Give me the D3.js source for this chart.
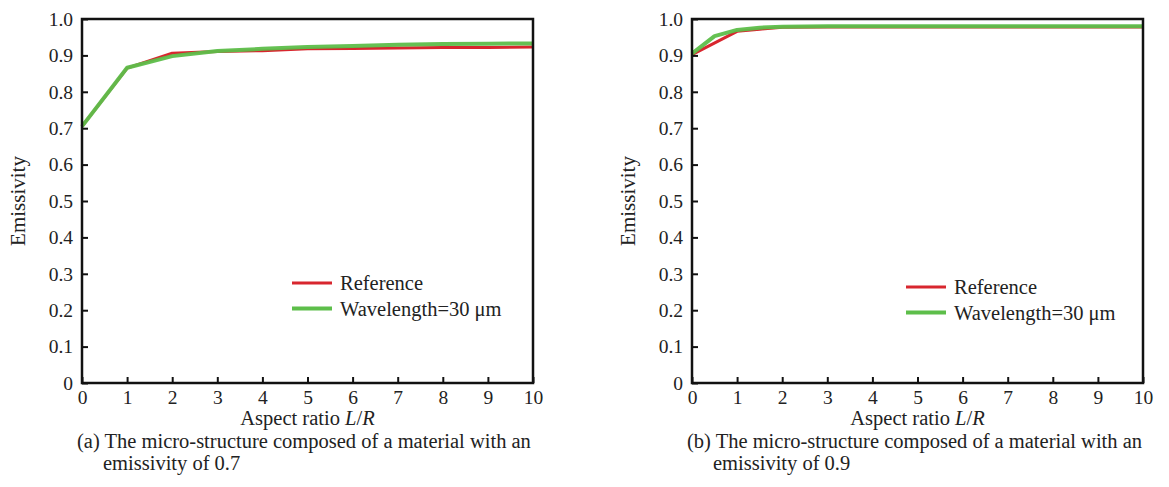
<!DOCTYPE html>
<html>
<head>
<meta charset="utf-8">
<script src="https://cdn.jsdelivr.net/npm/d3@7"></script>
<style>
  html, body { margin: 0; padding: 0; background: #fff; }
  svg { display: block; }
  svg text { font-family: "Liberation Serif", "Times New Roman", serif; fill: #222; }
</style>
</head>
<body>
<svg id="chart" width="1169" height="487"></svg>
<script>
// Emissivity vs aspect ratio L/R, two micro-structure materials
const xTicks = [0, 1, 2, 3, 4, 5, 6, 7, 8, 9, 10];
const yTicks = [0, 0.1, 0.2, 0.3, 0.4, 0.5, 0.6, 0.7, 0.8, 0.9, 1.0];
const yTickLabels = ["0", "0.1", "0.2", "0.3", "0.4", "0.5", "0.6", "0.7", "0.8", "0.9", "1.0"];
const seriesNames = ["Reference", "Wavelength=30 \u03bcm"];

// (a) material emissivity 0.7
const aRefX = [0, 1, 2, 3, 4, 5, 6, 7, 8, 9, 10];
const aRefY = [0.705, 0.865, 0.906, 0.911, 0.913, 0.918, 0.919, 0.920, 0.922, 0.922, 0.923];
const aWavX = [0, 1, 2, 3, 4, 5, 6, 7, 8, 9, 10];
const aWavY = [0.705, 0.866, 0.898, 0.912, 0.918, 0.923, 0.926, 0.929, 0.931, 0.932, 0.933];

// (b) material emissivity 0.9
const bRefX = [0, 1, 1.5, 2, 3, 4, 5, 6, 7, 8, 9, 10];
const bRefY = [0.902, 0.966, 0.972, 0.977, 0.978, 0.978, 0.978, 0.978, 0.978, 0.978, 0.978, 0.978];
const bWavX = [0, 0.5, 1, 1.5, 2, 3, 4, 5, 6, 7, 8, 9, 10];
const bWavY = [0.905, 0.953, 0.970, 0.976, 0.979, 0.980, 0.980, 0.980, 0.980, 0.980, 0.980, 0.980, 0.980];

const captionsA = ["(a) The micro-structure composed of a material with an", "emissivity of 0.7"];
const captionsB = ["(b) The micro-structure composed of a material with an", "emissivity of 0.9"];

const RED = "#d8262e";
const GREEN = "#5dbe4a";

const svg = d3.select("#chart");

function drawPanel(cfg) {
  const g = svg.append("g");
  const x = d3.scaleLinear().domain([0, 10]).range([cfg.left, cfg.right]);
  const y = d3.scaleLinear().domain([0, 1]).range([cfg.bottom, cfg.top]);

  // series lines
  const line = d3.line().x(d => x(d[0])).y(d => y(d[1]));
  const ref = cfg.refX.map((v, i) => [v, cfg.refY[i]]);
  const wav = cfg.wavX.map((v, i) => [v, cfg.wavY[i]]);
  g.append("path").datum(ref).attr("d", line)
    .attr("fill", "none").attr("stroke", RED).attr("stroke-width", 3)
    .attr("stroke-linejoin", "round");
  g.append("path").datum(wav).attr("d", line)
    .attr("fill", "none").attr("stroke", GREEN).attr("stroke-width", 4)
    .attr("stroke-linejoin", "round").attr("opacity", 0.95);

  // inward ticks
  const xAxis = d3.axisBottom(x).tickValues(xTicks).tickSize(-6).tickPadding(7)
    .tickFormat(d3.format("d"));
  const gx = g.append("g").attr("transform", `translate(0,${cfg.bottom})`).call(xAxis);
  const yAxis = d3.axisLeft(y).tickValues(yTicks).tickSize(-6).tickPadding(9)
    .tickFormat((d, i) => yTickLabels[i]);
  const gy = g.append("g").attr("transform", `translate(${cfg.left},0)`).call(yAxis);
  [gx, gy].forEach(a => {
    a.attr("font-family", null).attr("font-size", null);
    a.select(".domain").remove();
    a.selectAll(".tick line").attr("stroke", "#111").attr("stroke-width", 2);
    a.selectAll(".tick text").style("font-size", "19.5px").attr("fill", null);
  });

  // frame
  g.append("rect").attr("x", cfg.left).attr("y", cfg.top)
    .attr("width", cfg.right - cfg.left).attr("height", cfg.bottom - cfg.top)
    .attr("fill", "none").attr("stroke", "#111").attr("stroke-width", 2.5);

  // axis titles
  g.append("text").attr("transform", `translate(${cfg.left - 57},${(cfg.top + cfg.bottom) / 2}) rotate(-90)`)
    .attr("text-anchor", "middle").style("font-size", "21px").text("Emissivity");
  const xt = g.append("text").attr("x", (cfg.left + cfg.right) / 2).attr("y", cfg.bottom + 42)
    .attr("text-anchor", "middle").style("font-size", "20.5px");
  xt.append("tspan").text("Aspect ratio ");
  xt.append("tspan").attr("font-style", "italic").text("L");
  xt.append("tspan").text("/");
  xt.append("tspan").attr("font-style", "italic").text("R");

  // legend
  const lg = g.append("g");
  [RED, GREEN].forEach((c, i) => {
    const ly = cfg.legY + i * 25.5;
    lg.append("line").attr("x1", cfg.legX).attr("x2", cfg.legX + 40)
      .attr("y1", ly).attr("y2", ly).attr("stroke", c).attr("stroke-width", i ? 4 : 3);
    lg.append("text").attr("x", cfg.legX + 48).attr("y", ly + 7)
      .style("font-size", "20.5px").text(seriesNames[i]);
  });

  // caption
  g.append("text").attr("x", cfg.left - 5).attr("y", cfg.bottom + 65)
    .style("font-size", "20.5px").text(cfg.caption[0]);
  g.append("text").attr("x", cfg.left + 21).attr("y", cfg.bottom + 87)
    .style("font-size", "20.5px").text(cfg.caption[1]);
}

drawPanel({ left: 82, right: 533, top: 19, bottom: 383,
  refX: aRefX, refY: aRefY, wavX: aWavX, wavY: aWavY,
  legX: 292, legY: 283, caption: captionsA });
drawPanel({ left: 692, right: 1143, top: 19, bottom: 383,
  refX: bRefX, refY: bRefY, wavX: bWavX, wavY: bWavY,
  legX: 906, legY: 287, caption: captionsB });
</script>
</body>
</html>
